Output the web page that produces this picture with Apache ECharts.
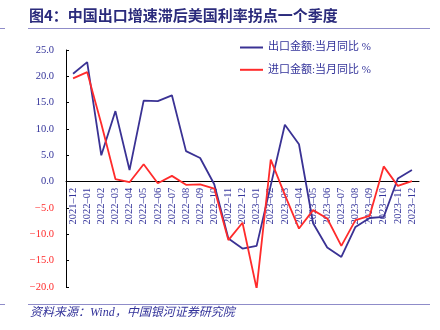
<!DOCTYPE html>
<html>
<head>
<meta charset="utf-8">
<script src="https://cdn.jsdelivr.net/npm/echarts@6/dist/echarts.min.js"></script>
<style>html,body{margin:0;padding:0;background:#fff}#c{width:440px;height:330px}</style>
</head>
<body>
<div id="c"></div>
<script>
var categories = ['2021-12','2022-01','2022-02','2022-03','2022-04','2022-05','2022-06','2022-07','2022-08','2022-09','2022-10','2022-11','2022-12','2023-01','2023-02','2023-03','2023-04','2023-05','2023-06','2023-07','2023-08','2023-09','2023-10','2023-11','2023-12'];
var exportsYoY = [20.5, 22.7, 5.0, 13.4, 2.2, 15.4, 15.3, 16.4, 5.8, 4.5, -0.5, -10.8, -12.7, -12.2, -0.7, 10.8, 7.1, -7.9, -12.5, -14.3, -8.6, -6.9, -6.7, 0.6, 2.2];
var importsYoY = [19.6, 20.8, 11.0, 0.5, -0.1, 3.3, -0.3, 1.1, -0.6, -0.5, -1.3, -11.1, -7.8, -20.3, 4.2, -2.5, -8.9, -5.4, -7.0, -12.2, -7.3, -6.5, 2.9, -0.8, 0.1];
var seriesNames = ['出口金额:当月同比 %', '进口金额:当月同比 %'];
var titleText = '图4：中国出口增速滞后美国利率拐点一个季度';
var sourceText = '资料来源：Wind，中国银河证券研究院';
var yMin = -20, yMax = 25, yStep = 5;

var BLUE = '#3a3294';
var RED = '#ff2b2b';
var TXT = '#33339a';
var SERIF = '"Liberation Serif", "Noto Sans CJK SC", serif';

var gridTop = 50, gridBottom = 43, H = 330;
var plotH = H - gridTop - gridBottom;
var zeroOffset = -plotH * (0 - yMin) / (yMax - yMin);

var chart = echarts.init(document.getElementById('c'));
chart.setOption({
  animation: false,
  backgroundColor: '#fff',
  graphic: [
    { type: 'text', left: 29, top: 8, style: { text: titleText, font: 'bold 15px "Noto Sans CJK SC", sans-serif', fill: '#2b2b7c' } },
    { type: 'line', shape: { x1: 28, y1: 28.5, x2: 430, y2: 28.5 }, style: { stroke: '#8f8cc9', lineWidth: 1 } },
    { type: 'line', shape: { x1: 0, y1: 28.5, x2: 5, y2: 28.5 }, style: { stroke: '#8f8cc9', lineWidth: 1 } },
    { type: 'line', shape: { x1: 28, y1: 304.5, x2: 430, y2: 304.5 }, style: { stroke: '#8f8cc9', lineWidth: 1 } },
    { type: 'line', shape: { x1: 0, y1: 304.5, x2: 5, y2: 304.5 }, style: { stroke: '#8f8cc9', lineWidth: 1 } },
    { type: 'text', left: 30, top: 307, style: { text: sourceText, font: 'italic 12px "Liberation Serif", "Noto Sans CJK SC", serif', fill: TXT } }
  ],
  legend: {
    orient: 'vertical',
    left: 240, top: 41.5,
    padding: 0,
    icon: 'rect',
    itemWidth: 23, itemHeight: 2, itemGap: 10.3,
    textStyle: { color: TXT, fontSize: 11, lineHeight: 12, fontFamily: SERIF },
    data: seriesNames
  },
  grid: { left: 66, right: 21, top: gridTop, bottom: gridBottom, containLabel: false },
  xAxis: {
    type: 'category',
    data: categories,
    offset: zeroOffset,
    axisLine: { onZero: false, lineStyle: { color: '#000', width: 1 } },
    axisTick: { inside: true, length: 3, lineStyle: { color: '#000' } },
    axisLabel: {
      interval: 0, rotate: 90, margin: 6,
      color: TXT, fontSize: 10.5, fontFamily: SERIF,
      formatter: function (v) { return v.replace('-', '–'); }
    },
    splitLine: { show: false }
  },
  yAxis: {
    type: 'value',
    min: yMin, max: yMax, interval: yStep,
    axisLine: { show: true, lineStyle: { color: '#000', width: 1 } },
    axisTick: { show: true, inside: true, length: 3, lineStyle: { color: '#000' } },
    axisLabel: {
      margin: 12, fontSize: 10.5, fontFamily: SERIF,
      color: function (v) { return Number(v) < 0 ? RED : TXT; },
      formatter: function (v) { return (v < 0 ? '−' : '') + Math.abs(v).toFixed(1); }
    },
    splitLine: { show: false }
  },
  series: [
    { name: seriesNames[0], type: 'line', data: exportsYoY, symbol: 'none', lineStyle: { color: BLUE, width: 1.8 }, itemStyle: { color: BLUE } },
    { name: seriesNames[1], type: 'line', data: importsYoY, symbol: 'none', lineStyle: { color: RED, width: 1.8 }, itemStyle: { color: RED } }
  ]
});
</script>
</body>
</html>
